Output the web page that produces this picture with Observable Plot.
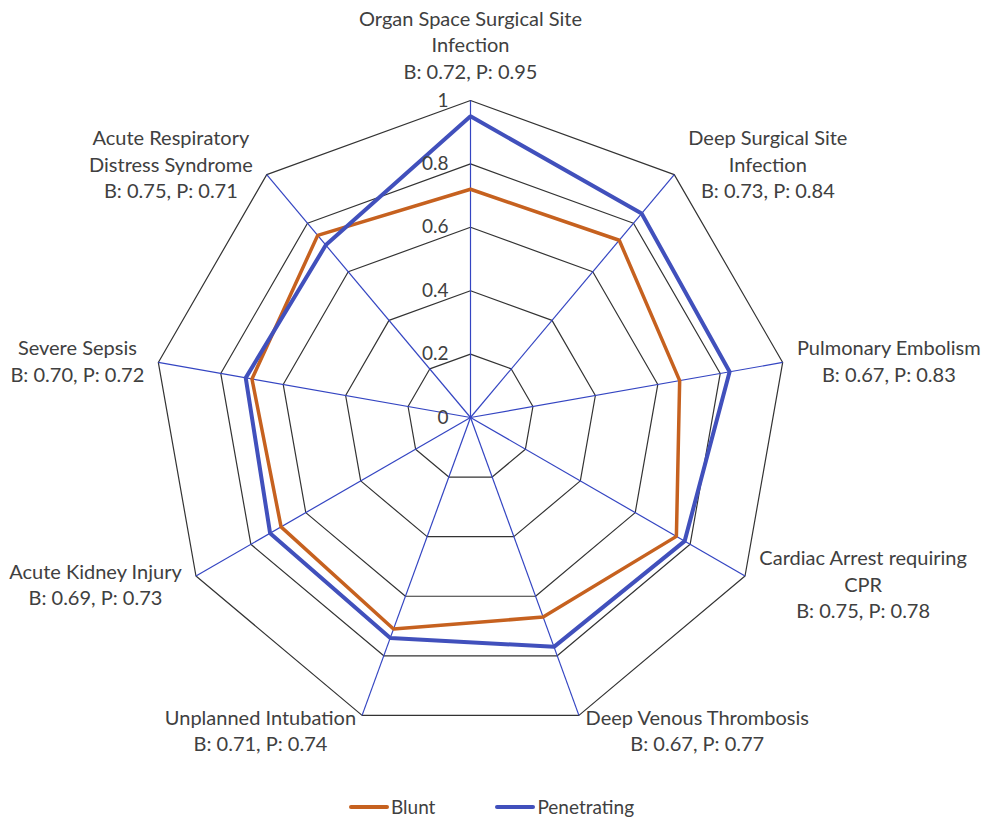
<!DOCTYPE html>
<html>
<head>
<meta charset="utf-8">
<script src="https://cdn.jsdelivr.net/npm/d3@7"></script>
<script src="https://cdn.jsdelivr.net/npm/@observablehq/plot@0.6"></script>
<style>
  html, body { margin: 0; padding: 0; background: #fff; }
  #chart { width: 987px; height: 780px; }
  #legend { display: flex; justify-content: center; align-items: center; gap: 60px; height: 37px;
    font-family: Lato, "Open Sans", sans-serif; font-size: 19px; color: #404040; padding-top: 8px; padding-right: 4px; }
  .item { display: flex; align-items: center; }
  .sw { display: inline-block; width: 40px; height: 4px; margin-right: 2px; border-radius: 2px; }
</style>
</head>
<body>
<div id="chart"></div>
<div id="legend"></div>
<script>
const categories = [
  "Organ Space Surgical Site\nInfection",
  "Deep Surgical Site\nInfection",
  "Pulmonary Embolism",
  "Cardiac Arrest requiring\nCPR",
  "Deep Venous Thrombosis",
  "Unplanned Intubation",
  "Acute Kidney Injury",
  "Severe Sepsis",
  "Acute Respiratory\nDistress Syndrome"
];
const blunt = [0.72, 0.73, 0.67, 0.75, 0.67, 0.71, 0.69, 0.70, 0.75];
const penetrating = [0.95, 0.84, 0.83, 0.78, 0.77, 0.74, 0.73, 0.72, 0.71];
const seriesNames = ["Blunt", "Penetrating"];
const ringValues = [0.2, 0.4, 0.6, 0.8, 1.0];
const tickValues = [0, 0.2, 0.4, 0.6, 0.8, 1];
const tickLabels = ["0", "0.2", "0.4", "0.6", "0.8", "1"];

const colors = {Blunt: "#C6611F", Penetrating: "#4150BC"};
const spokeColor = "#3445C2";
const ringColor = "#333333";
const textColor = "#404040";
const FONT = "Lato";
const FS = 20;
const TFS = 19;
const LH = 26.5;

const W = 987, H = 780, cx = 470, cy = 417, R = 317;
const n = categories.length;
const ang = i => (2 * Math.PI * i) / n;
const px = (v, i) => v * Math.sin(ang(i));
const py = (v, i) => v * Math.cos(ang(i));

// rings
const ringData = [];
ringValues.forEach(r => categories.forEach((c, i) => ringData.push({ring: r, x: px(r, i), y: py(r, i)})));
// spokes
const spokes = categories.map((c, i) => ({x2: px(1, i), y2: py(1, i)}));
// series
const mk = (vals, name) => vals.map((v, i) => ({series: name, x: px(v, i), y: py(v, i)}));
const bluntData = mk(blunt, "Blunt");
const penData = mk(penetrating, "Penetrating");

// labels (placed from vertex position with measured text widths)
const ctx = document.createElement("canvas").getContext("2d");
ctx.font = `${FS}px ${FONT}`;
const labels = categories.map((c, i) => {
  const text = `${c}\nB: ${blunt[i].toFixed(2)}, P: ${penetrating[i].toFixed(2)}`;
  const lines = text.split("\n");
  const w = Math.max(...lines.map(l => ctx.measureText(l).width));
  const s = Math.sin(ang(i)), co = Math.cos(ang(i));
  const vx = cx + R * s, vy = cy - R * co;
  let lx, ly;
  if (Math.abs(s) < 0.1) {
    lx = vx;
    ly = vy - (lines.length * LH) / 2 - 17;
  } else {
    const gap = Math.abs(s) > 0.5 ? 14 : 6;
    lx = vx + Math.sign(s) * (gap + w / 2);
    ly = vy - 15 * co;
  }
  return {text, x: (lx - cx) / R, y: (cy - ly) / R};
});

const ticks = tickValues.map((v, i) => ({x: 0, y: v, label: tickLabels[i]}));

const chart = Plot.plot({
  width: W, height: H,
  marginTop: 0, marginRight: 0, marginBottom: 0, marginLeft: 0,
  x: {domain: [-1, 1], range: [cx - R, cx + R], axis: null},
  y: {domain: [-1, 1], range: [cy + R, cy - R], axis: null},
  style: {fontFamily: FONT, fontSize: FS + "px", color: textColor, background: "#fff", overflow: "visible"},
  marks: [
    Plot.line(ringData, {x: "x", y: "y", z: "ring", curve: "linear-closed", stroke: ringColor, strokeWidth: 1.2}),
    Plot.link(spokes, {x1: 0, y1: 0, x2: "x2", y2: "y2", stroke: spokeColor, strokeWidth: 1.2}),
    Plot.line(bluntData, {x: "x", y: "y", curve: "linear-closed", stroke: colors.Blunt, strokeWidth: 3.5, strokeLinejoin: "miter"}),
    Plot.line(penData, {x: "x", y: "y", curve: "linear-closed", stroke: colors.Penetrating, strokeWidth: 4, strokeLinejoin: "miter"}),
    Plot.text(ticks, {x: "x", y: "y", text: "label", textAnchor: "end", dx: -22, fill: textColor, fontSize: TFS}),
    Plot.text(labels, {x: "x", y: "y", text: "text", textAnchor: "middle", lineHeight: LH / FS, fill: textColor, fontSize: FS})
  ]
});
document.getElementById("chart").appendChild(chart);

const legend = document.getElementById("legend");
seriesNames.forEach(name => {
  const item = document.createElement("div");
  item.className = "item";
  const sw = document.createElement("span");
  sw.className = "sw";
  sw.style.background = colors[name];
  const t = document.createElement("span");
  t.textContent = name;
  item.appendChild(sw);
  item.appendChild(t);
  legend.appendChild(item);
});
</script>
</body>
</html>
